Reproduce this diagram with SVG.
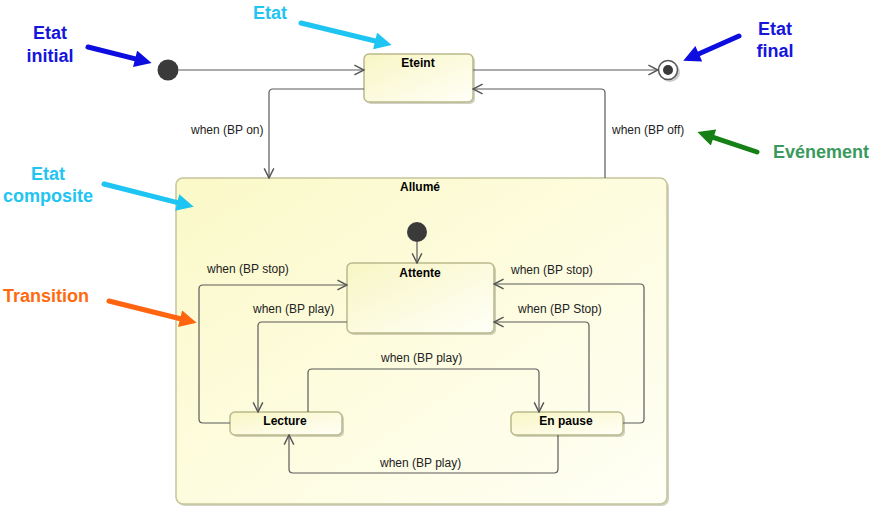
<svg xmlns="http://www.w3.org/2000/svg" width="871" height="517" viewBox="0 0 871 517">
<defs>
<linearGradient id="gNode" x1="0" y1="0" x2="1" y2="1">
<stop offset="0" stop-color="#f8f6c4"/>
<stop offset="1" stop-color="#fffff8"/>
</linearGradient>
<linearGradient id="gComp" x1="0" y1="0" x2="1" y2="1">
<stop offset="0" stop-color="#fbf9c8"/>
<stop offset="1" stop-color="#fffff6"/>
</linearGradient>
<marker id="open" markerUnits="userSpaceOnUse" markerWidth="12" markerHeight="12" viewBox="0 0 10 10" refX="9" refY="5" orient="auto">
<path d="M1,1 L9,5 L1,9" fill="none" stroke="#555" stroke-width="1.2"/>
</marker>
<marker id="hBlue" markerUnits="userSpaceOnUse" markerWidth="18" markerHeight="17" viewBox="0 0 10 10" refX="2" refY="5" orient="auto"><path d="M0,0 L10,5 L0,10 z" fill="#0d0de0"/></marker>
<marker id="hCyan" markerUnits="userSpaceOnUse" markerWidth="18" markerHeight="17" viewBox="0 0 10 10" refX="2" refY="5" orient="auto"><path d="M0,0 L10,5 L0,10 z" fill="#1ec4f2"/></marker>
<marker id="hGreen" markerUnits="userSpaceOnUse" markerWidth="18" markerHeight="17" viewBox="0 0 10 10" refX="2" refY="5" orient="auto"><path d="M0,0 L10,5 L0,10 z" fill="#158015"/></marker>
<marker id="hOrange" markerUnits="userSpaceOnUse" markerWidth="18" markerHeight="17" viewBox="0 0 10 10" refX="2" refY="5" orient="auto"><path d="M0,0 L10,5 L0,10 z" fill="#ff6410"/></marker>
</defs>
<style>
.box{fill:url(#gNode);stroke:#b9b98c;stroke-width:1.5}
.comp{fill:url(#gComp);stroke:#c5c59a;stroke-width:1.5}
.shadow{fill:#9a9a80;opacity:0.45}
.title{font-family:"Liberation Sans",Arial,sans-serif;font-size:12px;font-weight:bold;fill:#000;text-anchor:middle}
.lbl{font-family:"Liberation Sans",Arial,sans-serif;font-size:12px;fill:#222}
.conn{fill:none;stroke:#5a5a5a;stroke-width:1.2}
.ann{font-family:"Liberation Sans",Arial,sans-serif;font-size:18px;font-weight:bold;text-anchor:middle}
.aline{fill:none;stroke-width:5;stroke-linecap:round}
</style>
<rect width="871" height="517" fill="#ffffff"/>

<g id="composite-Allume">
<rect class="shadow" x="178" y="180" width="491" height="326" rx="7"/>
<rect class="comp" x="176" y="178" width="491" height="326" rx="7"/>
<text class="title" x="420" y="191">Allumé</text>
</g>

<g id="initial">
<circle cx="168" cy="70" r="10.5" fill="#3a3a3a"/>
</g>

<g id="Eteint">
<rect class="shadow" x="366" y="56" width="109" height="48" rx="5"/>
<rect class="box" x="364" y="54" width="109" height="48" rx="5"/>
<text class="title" x="418" y="67">Eteint</text>
</g>

<g id="final">
<circle cx="670" cy="72" r="10" fill="#999" opacity="0.5"/>
<circle cx="668" cy="70" r="9.5" fill="#ffffff" stroke="#555" stroke-width="1.5"/>
<circle cx="668" cy="70" r="5" fill="#3a3a3a"/>
</g>

<g id="initial-inner">
<circle cx="417" cy="232" r="10" fill="#3a3a3a"/>
</g>

<g id="Attente">
<rect class="shadow" x="349" y="265" width="147" height="70" rx="5"/>
<rect class="box" x="347" y="263" width="147" height="70" rx="5"/>
<text class="title" x="420" y="277">Attente</text>
</g>

<g id="Lecture">
<rect class="shadow" x="232" y="414" width="112" height="23" rx="5"/>
<rect class="box" x="230" y="412" width="112" height="23" rx="5"/>
<text class="title" x="285" y="425">Lecture</text>
</g>

<g id="EnPause">
<rect class="shadow" x="513" y="414" width="112" height="23" rx="5"/>
<rect class="box" x="511" y="412" width="112" height="23" rx="5"/>
<text class="title" x="566" y="425">En pause</text>
</g>

<g id="connectors">
<path class="conn" d="M178.5,70 H364" marker-end="url(#open)"/>
<path class="conn" d="M473,70 H658" marker-end="url(#open)"/>
<path class="conn" d="M364,89 H273 Q269,89 269,93 V178" marker-end="url(#open)"/>
<path class="conn" d="M605,178 V93 Q605,89 601,89 H473" marker-end="url(#open)"/>
<path class="conn" d="M417,242 V263" marker-end="url(#open)"/>
<path class="conn" d="M230,423 H203 Q199,423 199,419 V289 Q199,285 203,285 H347" marker-end="url(#open)"/>
<path class="conn" d="M347,322 H262 Q258,322 258,326 V412" marker-end="url(#open)"/>
<path class="conn" d="M308,412 V373 Q308,369 312,369 H535 Q539,369 539,373 V412" marker-end="url(#open)"/>
<path class="conn" d="M558,435 V469 Q558,473 554,473 H293 Q289,473 289,469 V435" marker-end="url(#open)"/>
<path class="conn" d="M623,423 H640 Q644,423 644,419 V288 Q644,284 640,284 H494" marker-end="url(#open)"/>
<path class="conn" d="M589,412 V326 Q589,322 585,322 H494" marker-end="url(#open)"/>
</g>

<g id="labels">
<text class="lbl" x="191" y="134">when (BP on)</text>
<text class="lbl" x="612" y="134">when (BP off)</text>
<text class="lbl" x="207" y="273">when (BP stop)</text>
<text class="lbl" x="253" y="313">when (BP play)</text>
<text class="lbl" x="381" y="362">when (BP play)</text>
<text class="lbl" x="380" y="467">when (BP play)</text>
<text class="lbl" x="511" y="274">when (BP stop)</text>
<text class="lbl" x="518" y="313">when (BP Stop)</text>
</g>

<g id="annotations">
<text class="ann" x="50" y="39" fill="#1515dc">Etat</text>
<text class="ann" x="50" y="62" fill="#1515dc">initial</text>
<line class="aline" x1="88" y1="47" x2="138.4" y2="59.7" stroke="#0d0de0" marker-end="url(#hBlue)"/>

<text class="ann" x="270" y="19" fill="#22c4f2">Etat</text>
<line class="aline" x1="301" y1="23" x2="378.4" y2="41.7" stroke="#1ec4f2" marker-end="url(#hCyan)"/>

<text class="ann" x="775" y="35" fill="#1515dc">Etat</text>
<text class="ann" x="775" y="57" fill="#1515dc">final</text>
<line class="aline" x1="739" y1="36" x2="695.7" y2="55.2" stroke="#0d0de0" marker-end="url(#hBlue)"/>

<text class="ann" x="821" y="158" fill="#3a9a5e">Evénement</text>
<line class="aline" x1="757" y1="152" x2="710.3" y2="136.4" stroke="#158015" marker-end="url(#hGreen)"/>

<text class="ann" x="48" y="180" fill="#22c4f2">Etat</text>
<text class="ann" x="48" y="202" fill="#22c4f2">composite</text>
<line class="aline" x1="104" y1="184" x2="180.5" y2="203.4" stroke="#1ec4f2" marker-end="url(#hCyan)"/>

<text class="ann" x="46" y="302" fill="#ff6a10">Transition</text>
<line class="aline" x1="109" y1="301" x2="183.4" y2="319.5" stroke="#ff6410" marker-end="url(#hOrange)"/>
</g>
</svg>
